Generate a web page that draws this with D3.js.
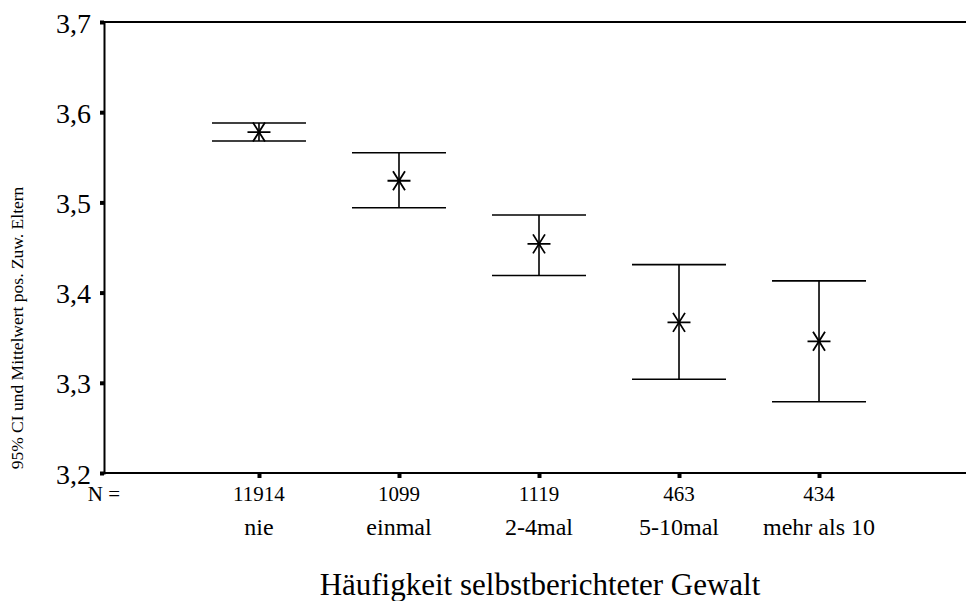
<!DOCTYPE html>
<html>
<head>
<meta charset="utf-8">
<script src="https://cdn.jsdelivr.net/npm/d3@7"></script>
<style>
  body { margin: 0; background: #fff; }
  svg text { font-family: "Liberation Serif", "Times New Roman", serif; fill: #000; }
</style>
</head>
<body>
<div id="chart"></div>
<script>
	var categories = ["nie", "einmal", "2-4mal", "5-10mal", "mehr als 10"];
	var counts = [11914, 1099, 1119, 463, 434];
	var means = [3.578, 3.524, 3.454, 3.367, 3.346];
	var lower = [3.568, 3.494, 3.419, 3.304, 3.279];
	var upper = [3.588, 3.555, 3.486, 3.431, 3.413];
	var yTicks = [3.2, 3.3, 3.4, 3.5, 3.6, 3.7];

	var width = 966, height = 601;
	var plotLeft = 104, plotTop = 22, plotBottom = 473, plotRight = 974;

	var svg = d3.select('#chart').append('svg')
		.attr('width', width)
		.attr('height', height);

	var x = d3.scalePoint()
		.domain(categories)
		.range([plotLeft, plotRight])
		.padding(1.107);

	var y = d3.scaleLinear()
		.domain([3.2, 3.7])
		.range([plotBottom, plotTop]);

	// frame: top line runs off the right edge
	svg.append("line")
		.attr("x1", plotLeft).attr("x2", width)
		.attr("y1", plotTop).attr("y2", plotTop)
		.attr("stroke", "#000").attr("stroke-width", 2);

	// y axis
	var yAxis = svg.append("g")
		.attr("transform", "translate(" + plotLeft + ",0)")
		.call(d3.axisLeft(y).tickValues(yTicks).tickSize(4).tickPadding(9)
			.tickFormat(function(d){ return d3.format(".1f")(d).replace(".", ","); }));
	yAxis.select(".domain").attr("stroke-width", 2);
	yAxis.selectAll(".tick line").attr("stroke-width", 4);
	yAxis.selectAll(".tick text")
		.style("font-size", "28px")
		.attr("dy", "0.36em");

	// x axis
	var xAxis = svg.append("g")
		.attr("transform", "translate(0," + plotBottom + ")")
		.call(d3.axisBottom(x).tickSize(5).tickFormat(""));
	xAxis.select(".domain").attr("d", "M" + plotLeft + ",0H" + width).attr("stroke-width", 2);
	xAxis.selectAll(".tick line").attr("stroke-width", 4).attr("y1", 1);

	// N labels
	svg.append("text")
		.attr("x", plotLeft).attr("y", 501)
		.attr("text-anchor", "middle")
		.style("font-size", "21px")
		.text("N =");

	svg.selectAll("text.n")
		.data(categories)
		.enter()
		.append("text")
		.attr("class", "n")
		.attr("x", function(d){ return x(d); })
		.attr("y", 501)
		.attr("text-anchor", "middle")
		.style("font-size", "21px")
		.text(function(d, i){ return counts[i]; });

	svg.selectAll("text.cat")
		.data(categories)
		.enter()
		.append("text")
		.attr("class", "cat")
		.attr("x", function(d){ return x(d); })
		.attr("y", 535)
		.attr("text-anchor", "middle")
		.style("font-size", "24px")
		.text(function(d){ return d; });

	// error bars
	var bars = svg.selectAll("g.bar")
		.data(categories)
		.enter()
		.append("g")
		.attr("class", "bar")
		.attr("stroke", "#000")
		.attr("stroke-width", 1.6);

	bars.append("line")
		.attr("x1", function(d){ return x(d); })
		.attr("x2", function(d){ return x(d); })
		.attr("y1", function(d, i){ return y(lower[i]); })
		.attr("y2", function(d, i){ return y(upper[i]); });

	bars.append("line")
		.attr("x1", function(d){ return x(d) - 47; })
		.attr("x2", function(d){ return x(d) + 47; })
		.attr("y1", function(d, i){ return y(upper[i]); })
		.attr("y2", function(d, i){ return y(upper[i]); });

	bars.append("line")
		.attr("x1", function(d){ return x(d) - 47; })
		.attr("x2", function(d){ return x(d) + 47; })
		.attr("y1", function(d, i){ return y(lower[i]); })
		.attr("y2", function(d, i){ return y(lower[i]); });

	// asterisk markers
	bars.append("path")
		.attr("stroke-width", 1.8)
		.attr("fill", "none")
		.attr("d", function(d, i){
			var cx = x(d), cy = y(means[i]);
			return "M" + (cx - 11.5) + "," + cy + "H" + (cx + 11.5) +
				"M" + (cx - 6) + "," + (cy - 9.5) + "L" + (cx + 6) + "," + (cy + 9.5) +
				"M" + (cx - 6) + "," + (cy + 9.5) + "L" + (cx + 6) + "," + (cy - 9.5);
		});

	// axis titles
	svg.append("text")
		.attr("x", 540).attr("y", 595)
		.attr("text-anchor", "middle")
		.style("font-size", "31px")
		.text("Häufigkeit selbstberichteter Gewalt");

	svg.append("text")
		.attr("transform", "translate(23,328) rotate(-90)")
		.attr("text-anchor", "middle")
		.style("font-size", "17.5px")
		.text("95% CI und Mittelwert pos. Zuw. Eltern");
</script>
</body>
</html>
